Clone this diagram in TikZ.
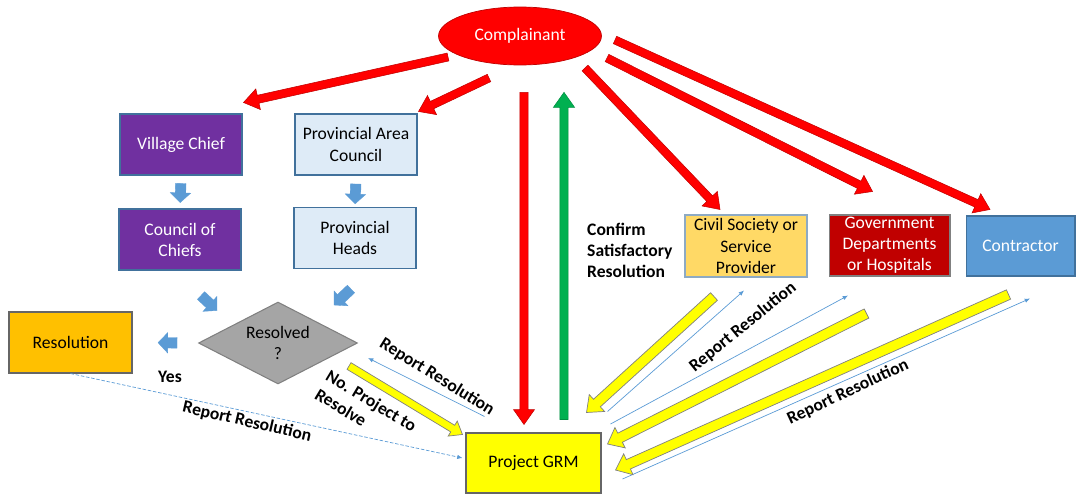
\documentclass[tikz,border=0pt]{standalone}
\usepackage{fontspec}
\setmainfont{Carlito}
\usepackage{xcolor}
\usepackage{tikz}
\usetikzlibrary{calc,shapes.geometric,arrows.meta}

\definecolor{cplred}{HTML}{FF0000}
\definecolor{darkred}{HTML}{C00000}
\definecolor{purp}{HTML}{7030A0}
\definecolor{paleblue}{HTML}{DEEBF7}
\definecolor{edgeblue}{HTML}{41719C}
\definecolor{midblue}{HTML}{5B9BD5}
\definecolor{amber}{HTML}{FFC000}
\definecolor{sand}{HTML}{FFD966}
\definecolor{grmyellow}{HTML}{FFFF00}
\definecolor{okgreen}{HTML}{00B050}
\definecolor{diagray}{HTML}{A5A5A5}

\tikzset{
  ba shaft/.store in=\bashaft, ba shaft=2pt,
  ba head/.store in=\bahead, ba head=5pt,
  ba length/.store in=\balength, ba length=6pt
}

% fat arrow drawn as a polygon from #2 to #3
\newcommand{\blockarrow}[3][]{%
  \begin{scope}[#1]
    \path #2 coordinate (ba-a) #3 coordinate (ba-b);
    \path ($(ba-b)!\balength!(ba-a)$) coordinate (ba-c);
    \filldraw ($(ba-a)!\bashaft!90:(ba-b)$) -- ($(ba-c)!\bashaft!-90:(ba-a)$)
      -- ($(ba-c)!\bahead!-90:(ba-a)$) -- (ba-b)
      -- ($(ba-c)!\bahead!90:(ba-a)$) -- ($(ba-c)!\bashaft!90:(ba-a)$)
      -- ($(ba-a)!\bashaft!-90:(ba-b)$) -- cycle;
  \end{scope}}

\begin{document}
\begin{tikzpicture}[x=0.02cm,y=-0.02cm,
        box node/.style={rectangle,draw=edgeblue,line width=0.6pt,minimum width=2.44cm,
          minimum height=1.22cm,inner sep=1pt,align=center},
        red arrow/.style={fill=cplred,draw=darkred,line width=0.3pt,
          ba shaft=2.3pt,ba head=6pt,ba length=8.5pt},
        green arrow/.style={red arrow,fill=okgreen,draw=okgreen!80!black},
        yellow arrow/.style={fill=grmyellow,draw=gray,line width=0.4pt,
          ba shaft=2.9pt,ba head=6.5pt,ba length=8pt},
        small yellow/.style={yellow arrow,ba shaft=2.2pt,ba head=5pt,ba length=6.5pt},
        blue arrow/.style={fill=midblue,draw=midblue,line width=0.2pt,
          ba shaft=3pt,ba head=5.8pt,ba length=5.5pt},
        report line/.style={draw=midblue,line width=0.4pt,-{Latex[length=3pt,width=2.5pt]}},
        bold label/.style={font=\bfseries,align=center}
      ]
      \useasboundingbox (0,0) rectangle (1077,494);

      % boxes
      \node[ellipse,fill=cplred,draw=darkred,text=white,minimum width=3.26cm,
        minimum height=1.16cm] (cpl) at (520,36) {Complainant};
      \node[box node,fill=purp,text=white] (vc) at (181,144.5) {Village Chief};
      \node[box node,fill=paleblue] (pac) at (356,144.5) {Provincial Area\\Council};
      \node[box node,fill=purp,text=white] (coc) at (180,239.5) {Council of\\Chiefs};
      \node[box node,fill=paleblue] (ph) at (355,238) {Provincial\\Heads};
      \node[box node,fill=amber,draw=gray!80!black,minimum width=2.46cm] (res) at (70.5,342.5) {Resolution};
      \node[diamond,aspect=1.94,fill=diagray,draw=gray,line width=0.6pt,minimum width=3.18cm,
        minimum height=1.64cm,inner sep=0pt,align=center] (dia) at (278,343) {Resolved\\?};
      \node[box node,fill=grmyellow,draw=gray!80!black,minimum width=2.7cm,
        minimum height=1.2cm] (grm) at (533.5,463) {Project GRM};
      \node[box node,fill=sand,draw=edgeblue!60,minimum height=1.24cm] (civ) at (746,246) {Civil Society or\\Service\\Provider};
      \node[box node,fill=darkred,text=white,draw=gray,minimum width=2.42cm] (gov) at (889.5,245.5) {Government\\Departments\\or Hospitals};
      \node[box node,fill=midblue,text=white,minimum width=2.18cm,
        minimum height=1.2cm] (con) at (1020.5,246) {Contractor};

      % labels
      \node[bold label] (yes) at (170,377) {Yes};
      \node[bold label,rotate=-13] (rr1) at (247,422) {Report Resolution};
      \node[bold label,rotate=-32] (rr2) at (437,377) {Report Resolution};
      \node[bold label,align=left,rotate=-31] (np) at (366,410) {No. Project to\\Resolve};
      \node[bold label,align=left,anchor=west] (conf) at (581,250) {Confirm\\Satisfactory\\Resolution};
      \node[bold label,rotate=39] (rr3) at (743,327) {Report Resolution};
      \node[bold label,rotate=25] (rr4) at (848,392) {Report Resolution};

      % small blue arrows
      \blockarrow[blue arrow]{($(vc.south)!0.24!(coc.north)$)}{($(vc.south)!0.82!(coc.north)$)}
      \blockarrow[blue arrow]{($(pac.south)!0.27!(ph.north)$)}{($(pac.south)!0.9!(ph.north)$)}
      \blockarrow[blue arrow]{($(coc.south)+(21,25)$)}{($(coc.south)+(37,40)$)}
      \blockarrow[blue arrow]{($(ph.south)+(-4,20)$)}{($(ph.south)+(-21,36)$)}
      \blockarrow[blue arrow]{($(dia.west)!0.32!(res.east)$)}{($(dia.west)!0.61!(res.east)$)}

      % from the complainant
      \blockarrow[red arrow]{($(cpl.center)+(-72,21)$)}{($(vc.north east)+(1,-11)$)}
      \blockarrow[red arrow]{($(cpl.center)+(-31,42)$)}{($(pac.north east)+(1,-2)$)}
      \blockarrow[red arrow]{($(cpl.south)+(4,27)$)}{($(grm.north)+(-9.5,-8)$)}
      \blockarrow[green arrow]{($(grm.north)+(30.5,-13)$)}{($(cpl.south)+(44,27)$)}
      \blockarrow[red arrow]{($(cpl.center)+(65,32)$)}{($(civ.north)+(-26,-5)$)}
      \blockarrow[red arrow]{($(cpl.center)+(87,22)$)}{($(gov.north)+(-17,-23)$)}
      \blockarrow[red arrow]{($(cpl.center)+(95,4)$)}{($(con.north)+(-30.5,-6)$)}

      % back to the project GRM
      \draw[report line] ($(grm.north east)+(6,-21)$) -- ($(civ.south)+(-2,13)$);
      \draw[report line] ($(grm.east)+(9,-39)$) -- ($(gov.south)+(-41.5,19)$);
      \draw[report line] ($(grm.east)+(21,16)$) -- ($(con.south)+(9.5,22)$);
      \draw[report line,dash pattern=on 2pt off 1pt] (res.south) -- ($(grm.west)+(-3,-5)$);
      \draw[report line] ($(grm.north west)+(19,-16)$) -- ($(dia.east)+(10,15)$);
      \blockarrow[yellow arrow]{($(civ.south)+(-32,19)$)}{($(grm.north east)+(-15,-20)$)}
      \blockarrow[yellow arrow]{($(gov.south)+(-23,37)$)}{($(grm.east)+(6,-19)$)}
      \blockarrow[yellow arrow]{($(con.south)+(-12,18)$)}{($(grm.east)+(14,7)$)}
      \blockarrow[small yellow]{($(dia.east)+(-9,23)$)}{($(grm.north west)+(-3,2)$)}
    \end{tikzpicture}
\end{document}
